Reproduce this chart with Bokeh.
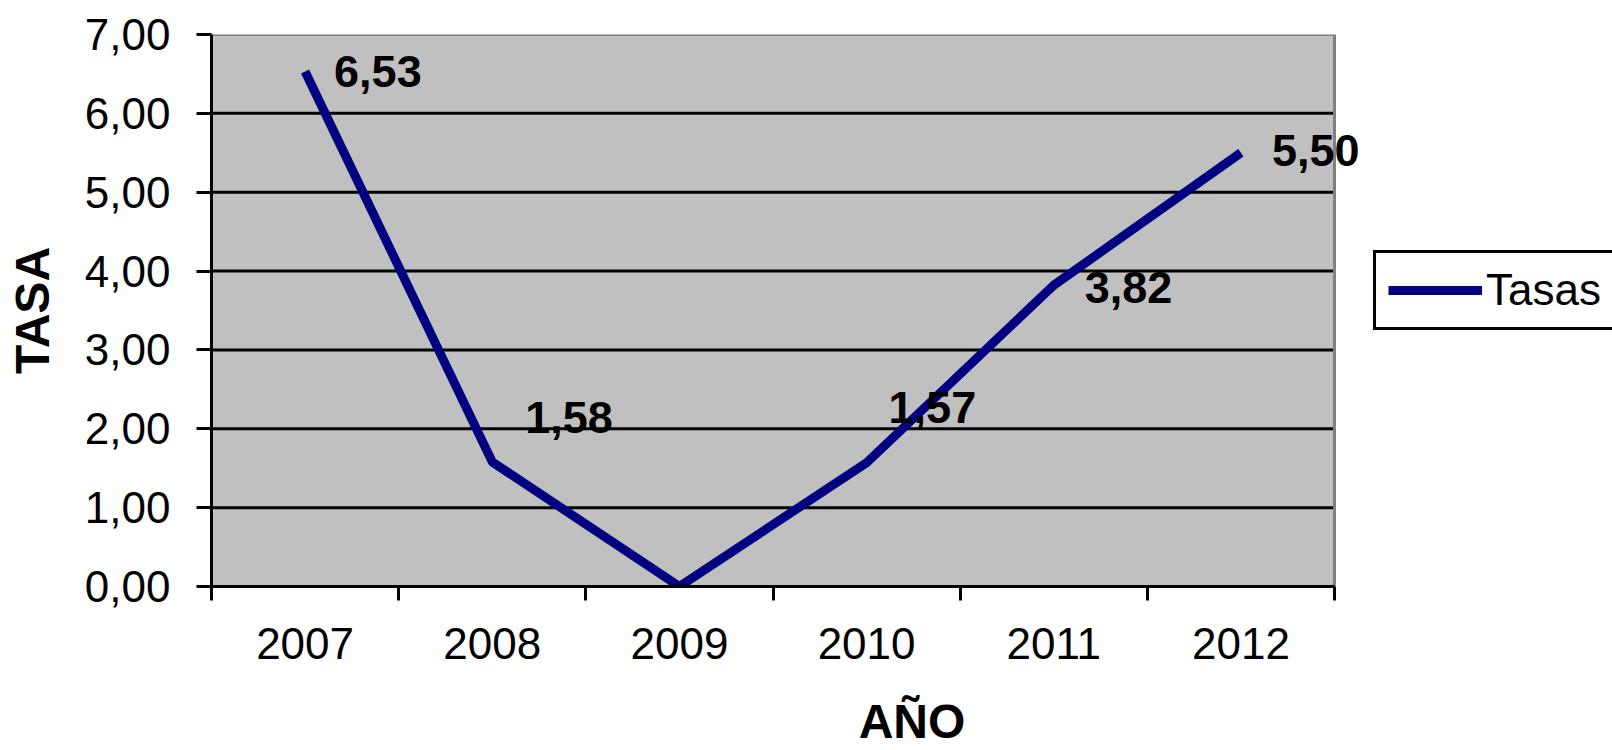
from bokeh.plotting import figure
from bokeh.models import Range1d, FixedTicker, Legend, LegendItem, ColumnDataSource
from bokeh.core.properties import value
from bokeh.embed import file_html
from bokeh.resources import INLINE

# ---- data ----
years = ["2007", "2008", "2009", "2010", "2011", "2012"]
tasas = [6.53, 1.58, 0.00, 1.57, 3.82, 5.50]
point_labels = ["6,53", "1,58", "", "1,57", "3,82", "5,50"]
y_ticks = [0, 1, 2, 3, 4, 5, 6, 7]
y_tick_labels = ["0,00", "1,00", "2,00", "3,00", "4,00", "5,00", "6,00", "7,00"]
series_name = "Tasas"
x_title = "AÑO"
y_title = "TASA"

# label placement (screen pixel offsets, style only)
label_dx = [29, 33, 0, 22, 31, 31]
label_dy = [0, -44, 0, -55, 2, -2]

FONT = "Liberation Sans"

# layout (pixels)
W, H = 1612, 750
LEFT, TOP, BOTTOM = 211, 34, 164
PLOT_W = 1123          # width of the grey plot area
FRAME_W = W - LEFT     # frame extends to the right edge so legend/labels are not clipped

n = len(years)
xs = [i + 0.5 for i in range(n)]
ymax = y_ticks[-1]

p = figure(width=W, height=H,
           x_range=Range1d(0, n * FRAME_W / PLOT_W), y_range=Range1d(0, ymax),
           output_backend="svg", toolbar_location=None,
           min_border_left=LEFT, min_border_right=0,
           min_border_top=TOP, min_border_bottom=BOTTOM)

p.background_fill_color = "white"
p.border_fill_color = "white"
p.outline_line_color = None
p.xgrid.visible = False
p.ygrid.visible = False

# grey plot area
p.quad(left=[0], right=[n], bottom=[0], top=[ymax],
       fill_color="#C0C0C0", line_color=None)

# horizontal grid lines
gy = y_ticks[1:-1]
p.segment(x0=[0] * len(gy), x1=[n] * len(gy), y0=gy, y1=gy,
          line_color="black", line_width=3)

# grey top/right border of plot area
p.line(x=[0, n, n], y=[ymax, ymax, 0], line_color="#808080", line_width=3)

# y axis
ya = p.yaxis[0]
ya.ticker = FixedTicker(ticks=y_ticks)
ya.major_label_overrides = {t: l for t, l in zip(y_ticks, y_tick_labels)}
ya.axis_line_color = "black"
ya.axis_line_width = 3
ya.major_tick_line_color = "black"
ya.major_tick_line_width = 3
ya.major_tick_out = 15
ya.major_tick_in = 0
ya.minor_tick_line_color = None
ya.major_label_standoff = 26
ya.major_label_text_font = FONT
ya.major_label_text_font_size = "44px"
ya.major_label_text_color = "black"
ya.axis_label = y_title
ya.axis_label_text_font = FONT
ya.axis_label_text_font_style = "bold"
ya.axis_label_text_font_size = "48px"
ya.axis_label_text_color = "black"
ya.axis_label_standoff = 23

# x axis: labels at category centres, ticks at category boundaries
xa = p.xaxis[0]
xa.bounds = (0, n)
xa.ticker = FixedTicker(ticks=xs, minor_ticks=list(range(n + 1)))
xa.major_label_overrides = {x: y for x, y in zip(xs, years)}
xa.axis_line_color = "black"
xa.axis_line_width = 3
xa.major_tick_line_color = None
xa.major_tick_out = 0
xa.major_tick_in = 0
xa.minor_tick_line_color = "black"
xa.minor_tick_line_width = 3
xa.minor_tick_out = 14
xa.minor_tick_in = 0
xa.major_label_standoff = 27
xa.major_label_text_font = FONT
xa.major_label_text_font_size = "44px"
xa.major_label_text_color = "black"
xa.axis_label = x_title
xa.axis_label_text_font = FONT
xa.axis_label_text_font_style = "bold"
xa.axis_label_text_font_size = "48px"
xa.axis_label_text_color = "black"
xa.axis_label_standoff = 33

src = ColumnDataSource(dict(x=xs, y=tasas, lab=point_labels, dx=label_dx, dy=label_dy))

r = p.line("x", "y", source=src, line_color="#000080", line_width=9)

p.text("x", "y", text="lab", source=src, x_offset="dx", y_offset="dy",
       text_font=value(FONT), text_font_style="bold", text_font_size="45px",
       text_color="black", text_baseline="middle", text_align="left")

legend = Legend(items=[LegendItem(label=series_name, renderers=[r])],
                location=(1162, 256),
                border_line_color="black", border_line_width=3, border_line_alpha=1,
                background_fill_color="white", background_fill_alpha=1,
                padding=12, spacing=0, margin=0,
                glyph_width=94, glyph_height=46, label_height=46,
                label_standoff=4,
                label_text_font=FONT, label_text_font_size="44px",
                label_text_color="black")
p.add_layout(legend, "center")

open("out.html", "w").write(file_html(p, INLINE))
